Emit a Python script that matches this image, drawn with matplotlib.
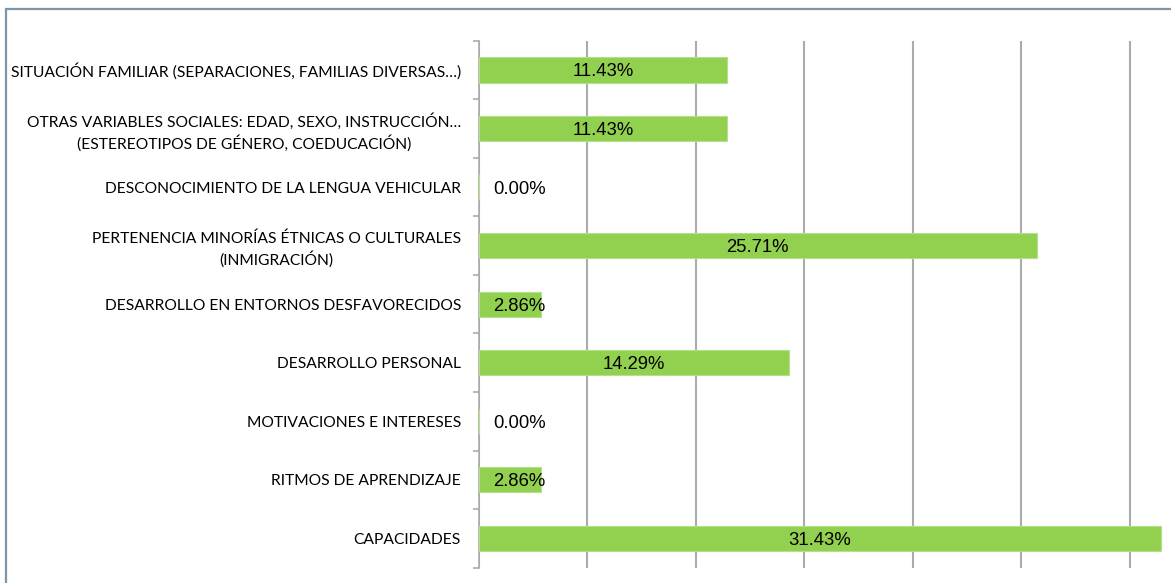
import matplotlib
matplotlib.use("Agg")
import matplotlib.pyplot as plt
from matplotlib.patches import Rectangle
import numpy as np

# categories from top to bottom as in the chart
categorias = [
    "SITUACIÓN FAMILIAR (SEPARACIONES, FAMILIAS DIVERSAS…)",
    "OTRAS VARIABLES SOCIALES: EDAD, SEXO, INSTRUCCIÓN…\n(ESTEREOTIPOS DE GÉNERO, COEDUCACIÓN)",
    "DESCONOCIMIENTO DE LA LENGUA VEHICULAR",
    "PERTENENCIA MINORÍAS ÉTNICAS O CULTURALES\n(INMIGRACIÓN)",
    "DESARROLLO EN ENTORNOS DESFAVORECIDOS",
    "DESARROLLO PERSONAL",
    "MOTIVACIONES E INTERESES",
    "RITMOS DE APRENDIZAJE",
    "CAPACIDADES",
]
porcentajes = [11.43, 11.43, 0.00, 25.71, 2.86, 14.29, 0.00, 2.86, 31.43]

W, H = 1171, 583
fig = plt.figure(figsize=(W / 100, H / 100), dpi=100)
ax = fig.add_axes([479 / W, (H - 567.7) / H, 1 - 479 / W, (567.7 - 40.7) / H])

n = len(categorias)
y = np.arange(n)[::-1]
ax.barh(y, porcentajes, height=0.43, color="#92D050", edgecolor="#B5E08A", linewidth=0.8, zorder=3)

for yi, v in zip(y, porcentajes):
    ax.text(max(v / 2, 1.85), yi, f"{v:.2f}%", ha="center", va="center_baseline",
            fontsize=13.3, family="Liberation Sans", color="black", zorder=4)

ax.set_xlim(0, 31.9)
ax.set_ylim(-0.5, n - 0.5)
ax.set_xticks(np.arange(0, 35, 5))
ax.tick_params(axis="x", length=0, labelbottom=False)
ax.grid(axis="x", color="#ABABAB", linewidth=1.5, zorder=0)

ax.set_yticks(y)
ax.set_yticklabels(categorias, fontsize=11.25, family="Lato", multialignment="center",
                   linespacing=1.35)
ax.tick_params(axis="y", which="major", length=0, pad=13)
ax.set_yticks(np.arange(-0.5, n, 1), minor=True)
ax.tick_params(axis="y", which="minor", length=4, color="#ABABAB", width=1.2)

for s in ["top", "right", "bottom"]:
    ax.spines[s].set_visible(False)
ax.spines["left"].set_color("#ABABAB")
ax.spines["left"].set_linewidth(1.2)

# outer frame of the chart
fig.patches.append(Rectangle((6 / W, -0.1), 1.2, (H - 9) / H + 0.1, transform=fig.transFigure,
                             fill=False, edgecolor="#7D95A8", linewidth=1.6))

fig.savefig("out.png", dpi=100)
